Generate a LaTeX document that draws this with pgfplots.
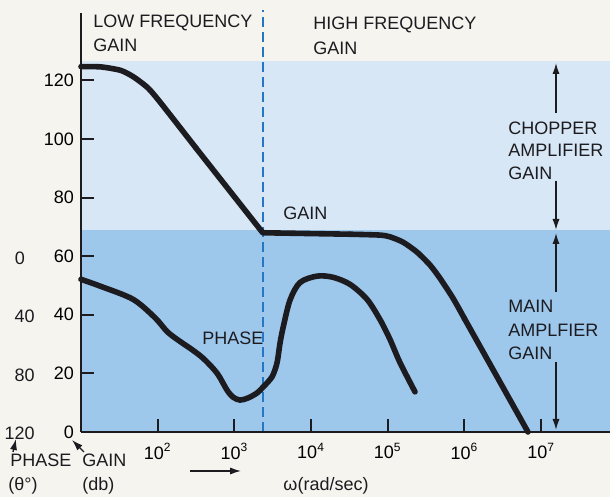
\documentclass[border=0pt]{standalone}
\usepackage{pgfplots}
\pgfplotsset{compat=1.18}
\usepackage{fontspec}
\setmainfont{Liberation Sans}
\usetikzlibrary{arrows.meta}

\definecolor{paper}{RGB}{246,244,239}
\definecolor{bandhi}{RGB}{216,231,245}
\definecolor{bandlo}{RGB}{158,199,236}
\definecolor{dashblue}{RGB}{38,118,198}
\definecolor{ink}{RGB}{28,28,32}

\begin{document}
\begin{tikzpicture}[font=\fontsize{9}{10}\selectfont,
    >={Latex[length=5.5pt,width=3.6pt]}]
% paper
\fill[paper] (-40.5pt,-32.5pt) rectangle (264.5pt,216pt);
\begin{axis}[
    at={(0,0)}, anchor=south west,
    scale only axis, width=264.5pt, height=209.5pt,
    xmode=log, xmin=10, xmax=7.9e7,
    ymin=0, ymax=143,
    axis x line*=bottom, axis y line*=left,
    axis line style={ink, line width=1pt},
    axis on top, clip=false,
    xtick={1e2,1e3,1e4,1e5,1e6,1e7},
    xticklabels={10\textsuperscript{2},10\textsuperscript{3},10\textsuperscript{4},
                 10\textsuperscript{5},10\textsuperscript{6},10\textsuperscript{7}},
    xminorticks=false,
    ytick={0,20,40,60,80,100,120},
    yticklabels={0,20,40,60,80,100,120},
    tick align=inside,
    major tick length=6.5pt,
    tick style={ink, line width=1pt},
    xticklabel style={yshift=-2pt},
    curve/.style={ink, line width=2.8pt, line cap=round, line join=round},
  ]
  % gain bands
  \addplot[fill=bandhi, draw=none] coordinates {(10,69) (7.9e7,69) (7.9e7,126.5) (10,126.5)} -- cycle;
  \addplot[fill=bandlo, draw=none] coordinates {(10,0) (7.9e7,0) (7.9e7,69) (10,69)} -- cycle;
  % crossover between low and high frequency gain
  \addplot[dashblue, line width=0.9pt, dash pattern=on 5pt off 2.5pt] coordinates {(2344,0) (2344,144)};
  % gain: rounded knees, straight slopes
  \addplot[curve, smooth, tension=0.4] coordinates {
    (10,124.7) (18.2,124.6) (33.1,123.4) (49.0,121.1) (74.8,117.4) (109.6,112.3) (316,96.9)
  };
  \addplot[curve, sharp plot] coordinates {(316,96.9) (2344,68.0) (31620,67.5)};
  \addplot[curve, smooth, tension=0.4] coordinates {
    (31620,67.5) (79430,67.2) (106900,66.6) (157800,64.8) (240400,61.4)
    (354800,57.0) (478600,52.5) (707900,45.7) (1.0e6,38.7)
  };
  \addplot[curve, sharp plot] coordinates {(1.0e6,38.7) (6.73e6,0)};
  % phase
  \addplot[curve, smooth, tension=0.5] coordinates {
    (10,52.1) (17.7,49.8) (47.6,45.3) (92.3,39.0) (136,34.0) (214,30.2) (264,28.6)
    (390,25.2) (593,20.1) (802,14.3) (959,11.9) (1183,10.9) (1503,11.6) (1972,13.3)
    (2360,15.3) (3090,18.8) (3589,23.5) (3936,30.3) (4305,35.5) (5309,45.0)
    (7161,51.0) (11940,53.2) (19320,52.8)
    (32140,50.4) (53580,45.3) (79070,38.4) (106900,31.6) (144200,23.7) (226500,13.7)
  };
\end{axis}
% annotations, placed in reference pixel units
\begin{scope}[x=0.5pt, y=-0.5pt, shift={(-40.5pt,216pt)}, text=ink]
  \node[anchor=base west, inner sep=0] at (93,28) {LOW FREQUENCY};
  \node[anchor=base west, inner sep=0] at (93,52) {GAIN};
  \node[anchor=base west, inner sep=0] at (313,30) {HIGH FREQUENCY};
  \node[anchor=base west, inner sep=0] at (313,55) {GAIN};
  \node[anchor=base west, inner sep=0] at (283,220) {GAIN};
  \node[anchor=base west, inner sep=0] at (202,345) {PHASE};
  \node[anchor=base west, inner sep=0] at (508,135) {CHOPPER};
  \node[anchor=base west, inner sep=0] at (508,157) {AMPLIFIER};
  \node[anchor=base west, inner sep=0] at (508,180) {GAIN};
  \node[anchor=base west, inner sep=0] at (508,313) {MAIN};
  \node[anchor=base west, inner sep=0] at (508,337) {AMPLFIER};
  \node[anchor=base west, inner sep=0] at (508,360) {GAIN};
  \draw[ink, line width=0.8pt, ->] (556,113) -- (556,63);
  \draw[ink, line width=0.8pt, ->] (556,181) -- (556,230);
  \draw[ink, line width=0.8pt, ->] (556,292) -- (556,233);
  \draw[ink, line width=0.8pt, ->] (556,362) -- (556,430);
  % phase scale
  \node[anchor=base, inner sep=0] at (20,265) {0};
  \node[anchor=base east, inner sep=0] at (35,323) {40};
  \node[anchor=base east, inner sep=0] at (35,382) {80};
  \node[anchor=base east, inner sep=0] at (35,440) {120};
  \node[anchor=base west, inner sep=0] at (10,467) {PHASE};
  \node[anchor=base west, inner sep=0] at (82,467) {GAIN};
  \node[anchor=base west, inner sep=0] at (8,491) {(θ°)};
  \node[anchor=base west, inner sep=0] at (82,491) {(db)};
  \draw[ink, line width=0.7pt, ->] (13,452) -- (16,439);
  \draw[ink, line width=0.7pt, ->] (84,452) -- (72,440);
  \draw[ink, line width=0.7pt, ->] (190,471) -- (241,471);
  \node[anchor=base, inner sep=0] at (326,491) {ω(rad/sec)};
\end{scope}
\pgfresetboundingbox
\useasboundingbox (-40.5pt,-32.5pt) rectangle (264.5pt,216pt);
\end{tikzpicture}
\end{document}
